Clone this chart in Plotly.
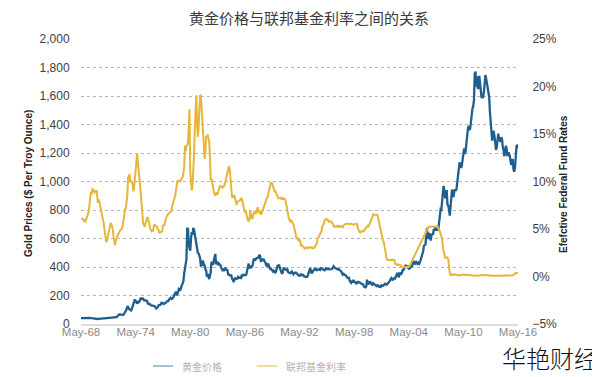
import pandas as pd
import plotly.graph_objects as go

# ---- data (monthly, May 1968 .. May 2016) ----
start_month = "1968-05-01"

gold_price = [
    # 1968 May-Dec
    41.0, 41.5, 40.5, 39.5, 39.8, 39.5, 39.6, 41.1,
    42.4, 42.6, 43.2, 43.3, 43.5, 41.8, 42.0, 41.0, 40.9, 40.3, 37.1, 35.2,
    34.9, 35.0, 35.1, 35.6, 35.9, 35.4, 35.3, 35.4, 36.2, 37.5, 37.4, 37.4,
    37.9, 38.7, 38.9, 39.0, 40.5, 40.1, 40.9, 42.7, 42.0, 42.5, 42.9, 43.5,
    45.8, 48.3, 48.3, 49.0, 54.6, 62.1, 65.7, 67.0, 65.5, 64.9, 62.9, 63.9,
    65.1, 74.2, 84.4, 90.5, 102.0, 120.1, 120.2, 106.8, 103.0, 100.1, 94.8, 106.7,
    129.2, 150.2, 168.4, 172.2, 163.3, 154.1, 143.0, 154.6, 151.8, 158.8, 181.7, 183.9,
    175.8, 180.0, 178.0, 167.0, 167.0, 164.2, 165.2, 163.1, 144.1, 142.8, 142.6, 139.3,
    131.0, 130.4, 132.6, 128.2, 125.9, 125.9, 117.5, 108.8, 114.0, 116.0, 130.6, 133.4,
    132.3, 136.3, 148.3, 149.3, 146.7, 140.8, 143.4, 144.8, 149.5, 159.3, 162.0, 160.5,
    173.3, 178.2, 183.7, 175.3, 176.3, 183.8, 188.6, 206.1, 212.2, 227.5, 206.1, 207.8,
    227.3, 245.7, 242.1, 239.2, 257.5, 279.1, 294.7, 300.8, 355.1, 391.7, 392.5, 455.1,
    675.3, 665.3, 553.6, 517.4, 513.8, 600.7, 644.3, 627.2, 674.3, 661.2, 623.5, 594.9,
    557.4, 500.4, 499.8, 495.8, 479.7, 460.8, 409.3, 411.1, 443.2, 437.8, 413.4, 410.1,
    384.0, 374.2, 330.2, 350.5, 333.9, 314.9, 339.1, 364.2, 435.8, 422.3, 415.2, 444.3,
    481.5, 491.9, 419.8, 432.8, 437.6, 412.9, 422.7, 416.4, 412.0, 393.7, 381.6, 388.6,
    370.9, 386.3, 394.3, 381.2, 377.1, 377.5, 347.6, 347.6, 341.1, 340.2, 341.2, 320.2,
    302.7, 299.1, 304.0, 324.9, 316.5, 317.1, 317.3, 329.8, 323.4, 326.0, 325.3, 322.6,
    345.4, 339.1, 345.8, 340.4, 342.5, 342.5, 348.7, 376.3, 417.8, 423.7, 398.4, 391.0,
    408.3, 401.1, 408.9, 438.4, 460.2, 449.0, 450.5, 460.2, 460.2, 465.4, 466.4, 486.3,
    477.8, 442.1, 443.7, 452.2, 451.5, 451.3, 437.5, 431.3, 412.6, 406.6, 420.2, 418.6,
    404.0, 387.8, 390.1, 384.2, 371.0, 367.6, 375.0, 365.4, 361.8, 366.9, 393.7, 409.2,
    410.1, 416.8, 393.1, 374.3, 369.1, 352.3, 362.5, 394.7, 389.3, 380.8, 381.1, 378.2,
    383.6, 363.8, 363.3, 358.4, 356.8, 366.7, 367.7, 356.5, 348.8, 358.7, 360.1, 361.7,
    354.5, 353.9, 344.3, 338.6, 337.2, 340.8, 353.0, 343.0, 345.4, 344.4, 335.0, 334.8,
    329.0, 329.3, 330.1, 342.2, 367.2, 371.9, 392.0, 379.8, 355.3, 364.2, 373.9, 383.3,
    387.0, 382.0, 384.0, 377.3, 381.4, 385.6, 385.5, 380.4, 391.6, 389.8, 384.4, 379.3,
    378.6, 376.5, 382.1, 391.0, 385.2, 387.6, 386.2, 383.7, 383.1, 383.1, 385.5, 387.4,
    400.0, 405.0, 396.4, 392.9, 392.0, 385.3, 383.5, 387.5, 383.1, 381.1, 377.9, 369.0,
    355.0, 346.6, 351.8, 344.5, 343.8, 340.8, 324.1, 324.0, 322.8, 324.9, 306.0, 289.0,
    289.1, 297.5, 295.9, 308.4, 299.1, 292.3, 292.9, 284.1, 289.0, 296.1, 293.9, 291.6,
    287.1, 287.2, 286.0, 282.6, 276.4, 261.3, 256.1, 256.7, 264.7, 310.7, 293.2, 283.1,
    284.6, 299.9, 286.4, 279.7, 275.1, 285.7, 281.6, 274.5, 273.7, 270.0, 266.0, 271.5,
    265.5, 261.9, 263.0, 260.5, 272.4, 270.2, 267.5, 272.4, 283.4, 283.1, 276.2, 275.9,
    281.7, 295.5, 294.0, 302.7, 314.5, 321.2, 313.3, 310.3, 319.2, 316.6, 319.2, 333.4,
    356.9, 359.0, 340.6, 328.2, 355.7, 356.4, 351.0, 359.8, 378.9, 378.9, 389.9, 407.6,
    414.0, 405.3, 406.7, 403.3, 383.8, 392.4, 398.1, 400.5, 405.3, 420.5, 439.4, 442.1,
    424.0, 423.4, 434.2, 428.9, 421.9, 430.7, 424.5, 437.9, 456.0, 469.9, 476.7, 509.8,
    549.9, 555.0, 557.1, 610.6, 675.4, 596.2, 633.7, 632.6, 598.2, 585.8, 627.8, 629.8,
    631.2, 664.8, 654.9, 679.4, 666.9, 655.5, 665.3, 665.4, 712.7, 754.6, 806.3, 803.2,
    889.6, 922.3, 968.4, 909.7, 888.7, 889.5, 939.8, 839.0, 829.9, 806.6, 760.9, 816.1,
    858.7, 943.2, 924.3, 890.2, 928.6, 945.7, 934.2, 949.4, 996.6, 1043.2, 1127.0, 1134.7,
    1117.9, 1095.4, 1113.3, 1148.7, 1205.4, 1232.9, 1192.9, 1215.8, 1270.9, 1342.0, 1369.9, 1391.0,
    1360.5, 1374.7, 1423.3, 1480.9, 1512.6, 1528.7, 1572.8, 1755.8, 1771.9, 1665.2, 1738.0, 1652.3,
    1656.1, 1742.1, 1673.8, 1650.1, 1585.5, 1596.7, 1593.9, 1626.0, 1744.5, 1746.6, 1721.6, 1684.8,
    1671.9, 1627.6, 1593.1, 1487.9, 1414.0, 1343.4, 1286.7, 1347.1, 1348.8, 1316.6, 1275.8, 1221.5,
    1244.3, 1299.6, 1336.1, 1299.0, 1287.5, 1279.1, 1310.6, 1295.1, 1236.6, 1222.5, 1176.3, 1200.6,
    1250.8, 1227.1, 1178.6, 1198.9, 1198.6, 1181.5, 1128.3, 1117.9, 1124.8, 1159.3, 1085.7, 1068.3,
    1097.9, 1199.5, 1245.1, 1242.3, 1260.9,
]

fed_funds_rate = [
    # 1968 May-Dec
    6.12, 6.07, 6.02, 6.03, 5.78, 5.91, 5.82, 6.02,
    6.30, 6.61, 6.79, 7.41, 8.67, 8.90, 8.61, 9.19, 9.15, 9.00, 8.85, 8.97,
    8.98, 8.98, 7.76, 8.10, 7.95, 7.61, 7.21, 6.61, 6.29, 6.20, 5.60, 4.90,
    4.14, 3.72, 3.71, 4.15, 4.63, 4.91, 5.31, 5.56, 5.55, 5.20, 4.91, 4.14,
    3.50, 3.29, 3.83, 4.17, 4.27, 4.46, 4.55, 4.80, 4.87, 5.04, 5.06, 5.33,
    5.94, 6.58, 7.09, 7.12, 7.84, 8.49, 10.40, 10.50, 10.78, 10.01, 10.03, 9.95,
    9.65, 8.97, 9.35, 10.51, 11.31, 11.93, 12.92, 12.01, 11.34, 10.06, 9.45, 8.53,
    7.13, 6.24, 5.54, 5.49, 5.22, 5.55, 6.10, 6.14, 6.24, 5.82, 5.22, 5.20,
    4.87, 4.77, 4.84, 4.82, 5.29, 5.48, 5.31, 5.29, 5.25, 5.02, 4.95, 4.65,
    4.61, 4.68, 4.69, 4.73, 5.35, 5.39, 5.42, 5.90, 6.14, 6.47, 6.51, 6.56,
    6.70, 6.78, 6.79, 6.89, 7.36, 7.60, 7.81, 8.04, 8.45, 8.96, 9.76, 10.03,
    10.07, 10.06, 10.09, 10.01, 10.24, 10.29, 10.47, 10.94, 11.43, 13.77, 13.18, 13.78,
    13.82, 14.13, 17.19, 17.61, 10.98, 9.47, 9.03, 9.61, 10.87, 12.81, 15.85, 18.90,
    19.08, 15.93, 14.70, 15.72, 18.52, 19.10, 19.04, 17.82, 15.87, 15.08, 13.31, 12.37,
    13.22, 14.78, 14.68, 14.94, 14.45, 14.15, 12.59, 10.12, 10.31, 9.71, 9.20, 8.95,
    8.68, 8.51, 8.77, 8.80, 8.63, 8.98, 9.37, 9.56, 9.45, 9.48, 9.34, 9.47,
    9.56, 9.59, 9.91, 10.29, 10.32, 11.06, 11.23, 11.64, 11.30, 9.99, 9.43, 8.38,
    8.35, 8.50, 8.58, 8.27, 7.97, 7.53, 7.88, 7.90, 7.92, 7.99, 8.05, 8.27,
    8.14, 7.86, 7.48, 6.99, 6.85, 6.92, 6.56, 6.17, 5.89, 5.85, 6.04, 6.91,
    6.43, 6.10, 6.13, 6.37, 6.85, 6.73, 6.58, 6.73, 7.22, 7.29, 6.69, 6.77,
    6.83, 6.58, 6.58, 6.87, 7.09, 7.51, 7.75, 8.01, 8.19, 8.30, 8.35, 8.76,
    9.12, 9.36, 9.85, 9.84, 9.81, 9.53, 9.24, 8.99, 9.02, 8.84, 8.55, 8.45,
    8.23, 8.24, 8.28, 8.26, 8.18, 8.29, 8.15, 8.13, 8.20, 8.11, 7.81, 7.31,
    6.91, 6.25, 6.12, 5.91, 5.78, 5.90, 5.82, 5.66, 5.45, 5.21, 4.81, 4.43,
    4.03, 4.06, 3.98, 3.73, 3.82, 3.76, 3.25, 3.30, 3.22, 3.10, 3.09, 2.92,
    3.02, 3.03, 3.07, 2.96, 3.00, 3.04, 3.06, 3.03, 3.09, 2.99, 3.02, 2.96,
    3.05, 3.25, 3.34, 3.56, 4.01, 4.25, 4.26, 4.47, 4.73, 4.76, 5.29, 5.45,
    5.53, 5.92, 5.98, 6.05, 6.01, 6.00, 5.85, 5.74, 5.80, 5.76, 5.80, 5.60,
    5.56, 5.22, 5.31, 5.22, 5.24, 5.27, 5.40, 5.22, 5.30, 5.24, 5.31, 5.29,
    5.25, 5.19, 5.39, 5.51, 5.50, 5.56, 5.52, 5.54, 5.54, 5.50, 5.52, 5.50,
    5.56, 5.51, 5.49, 5.45, 5.49, 5.56, 5.54, 5.55, 5.51, 5.07, 4.83, 4.68,
    4.63, 4.76, 4.81, 4.74, 4.74, 4.76, 4.99, 5.07, 5.22, 5.20, 5.42, 5.30,
    5.45, 5.73, 5.85, 6.02, 6.27, 6.53, 6.54, 6.50, 6.52, 6.51, 6.51, 6.40,
    5.98, 5.49, 5.31, 4.80, 4.21, 3.97, 3.77, 3.65, 3.07, 2.49, 2.09, 1.82,
    1.73, 1.74, 1.73, 1.75, 1.75, 1.75, 1.73, 1.74, 1.75, 1.75, 1.34, 1.24,
    1.24, 1.26, 1.25, 1.26, 1.26, 1.22, 1.01, 1.03, 1.01, 1.01, 1.00, 0.98,
    1.00, 1.01, 1.00, 1.00, 1.00, 1.03, 1.26, 1.43, 1.61, 1.76, 1.93, 2.16,
    2.28, 2.50, 2.63, 2.79, 3.00, 3.04, 3.26, 3.50, 3.62, 3.78, 4.00, 4.16,
    4.29, 4.49, 4.59, 4.79, 4.94, 4.99, 5.24, 5.25, 5.25, 5.25, 5.25, 5.24,
    5.25, 5.26, 5.26, 5.25, 5.25, 5.25, 5.26, 5.02, 4.94, 4.76, 4.49, 4.24,
    3.94, 2.98, 2.61, 2.28, 1.98, 2.00, 2.01, 2.00, 1.81, 0.97, 0.39, 0.16,
    0.15, 0.22, 0.18, 0.15, 0.18, 0.21, 0.16, 0.16, 0.15, 0.12, 0.12, 0.12,
    0.11, 0.13, 0.16, 0.20, 0.20, 0.18, 0.18, 0.19, 0.19, 0.19, 0.19, 0.18,
    0.17, 0.16, 0.14, 0.10, 0.09, 0.09, 0.07, 0.10, 0.08, 0.07, 0.08, 0.07,
    0.08, 0.10, 0.13, 0.14, 0.16, 0.16, 0.16, 0.13, 0.14, 0.16, 0.16, 0.16,
    0.14, 0.15, 0.14, 0.15, 0.11, 0.09, 0.09, 0.08, 0.08, 0.09, 0.08, 0.09,
    0.07, 0.07, 0.08, 0.09, 0.09, 0.10, 0.09, 0.09, 0.09, 0.09, 0.09, 0.12,
    0.11, 0.11, 0.11, 0.12, 0.12, 0.13, 0.13, 0.14, 0.14, 0.12, 0.12, 0.24,
    0.34, 0.38, 0.36, 0.37, 0.37,
]

tick_dates = ["1968-05-01", "1974-05-01", "1980-05-01", "1986-05-01", "1992-05-01",
              "1998-05-01", "2004-05-01", "2010-05-01", "2016-05-01"]
tick_labels = ["May-68", "May-74", "May-80", "May-86", "May-92",
               "May-98", "May-04", "May-10", "May-16"]

title_text = "黄金价格与联邦基金利率之间的关系"
gold_name = "黄金价格"
rate_name = "联邦基金利率"
left_title = "Gold Prices ($ Per Troy Ounce)"
right_title = "Efefctive Federal Fund Rates"
watermark = "华艳财经"

gold_dates = pd.date_range(start_month, periods=len(gold_price), freq="MS")
rate_dates = pd.date_range(start_month, periods=len(fed_funds_rate), freq="MS")

BLUE = "#1f5f8d"
GOLD = "#e6b63a"
CN = "Noto Sans CJK SC"
LAT = "Liberation Sans, Arial, sans-serif"

# The page body has an 8px margin, so the figure is drawn 8px in from the
# window's top-left corner; size it to fill the rest of the 600x377 window.
OFF = 8
W, H = 600 - OFF, 377 - OFF
# plot box in window pixels: x 81..518, y 39..324
PL = 81 - OFF
PR = W - (518 - OFF)
PT = 39 - OFF
PB = H - (324 - OFF)
PW, PH = W - PL - PR, H - PT - PB


def px_x(px):
    """window pixel x -> paper x"""
    return (px - OFF - PL) / PW


def px_y(py):
    """window pixel y -> paper y"""
    return (H - PB - (py - OFF)) / PH


fig = go.Figure()
fig.add_trace(go.Scatter(x=rate_dates, y=fed_funds_rate, mode="lines", yaxis="y2",
                         name=rate_name, line=dict(color=GOLD, width=2), showlegend=False))
fig.add_trace(go.Scatter(x=gold_dates, y=gold_price, mode="lines", yaxis="y",
                         name=gold_name, line=dict(color=BLUE, width=2.3), showlegend=False))

# manual legend (faded, as in the reference) so it does not push the margins
legend_y = 366
legend_items = [(153, 173, 180, gold_name, "#9cc2dc"), (257, 277, 284, rate_name, "#f3dc9c")]
shapes = []
annotations = []
for x0, x1, xt, label, col in legend_items:
    shapes.append(dict(type="line", xref="paper", yref="paper",
                       x0=px_x(x0), x1=px_x(x1), y0=px_y(legend_y), y1=px_y(legend_y),
                       line=dict(color=col, width=2)))
    annotations.append(dict(text=label, xref="paper", yref="paper", x=px_x(xt), y=px_y(legend_y),
                            xanchor="left", yanchor="middle", showarrow=False,
                            font=dict(family=CN, size=10, color="#b3b3b3")))

annotations += [
    dict(text=left_title, xref="paper", yref="paper", x=px_x(28), y=px_y(184),
         textangle=-90, showarrow=False, xanchor="center", yanchor="middle",
         font=dict(family=LAT, size=10, color="#222", weight="bold")),
    dict(text=right_title, xref="paper", yref="paper", x=px_x(563), y=px_y(184),
         textangle=-90, showarrow=False, xanchor="center", yanchor="middle",
         font=dict(family=LAT, size=10, color="#222", weight="bold")),
    dict(text=watermark, xref="paper", yref="paper", x=px_x(600),
         y=px_y(357), showarrow=False, xanchor="right", yanchor="middle",
         font=dict(family=CN, size=24, color="#111", weight=300)),
]

fig.update_layout(
    width=W, height=H,
    margin=dict(l=PL, r=PR, t=PT, b=PB, autoexpand=False),
    paper_bgcolor="white", plot_bgcolor="white", showlegend=False,
    title=dict(text=title_text, x=(309 - OFF) / W, xanchor="center",
               y=1 - (19 - OFF) / H, yanchor="middle",
               yref="container", font=dict(family=CN, size=15, color="#3a3a3a")),
    xaxis=dict(type="date", range=["1968-05-01", "2016-05-01"],
               tickvals=tick_dates, ticktext=tick_labels,
               tickfont=dict(family=LAT, size=11.5, color="#8a8a8a"),
               showgrid=False, showline=True, linecolor="#dcdcdc", linewidth=2,
               ticks="", zeroline=False, automargin=False, ticklabelstandoff=-4),
    yaxis=dict(range=[0, 2000], dtick=200, tickformat=",",
               tickfont=dict(family=LAT, size=12, color="#404040"),
               showgrid=True, gridcolor="#b5b5b5", griddash="dot", gridwidth=1,
               zeroline=False, ticks="outside", ticklen=8, tickcolor="rgba(0,0,0,0)",
               automargin=False),
    yaxis2=dict(range=[-5, 25], dtick=5, ticksuffix="%", overlaying="y", side="right",
                tickfont=dict(family=LAT, size=12, color="#404040"),
                showgrid=False, zeroline=False, automargin=False,
                ticks="outside", ticklen=11, tickcolor="rgba(0,0,0,0)"),
    shapes=shapes,
    annotations=annotations,
)

fig.write_html("out.html")
